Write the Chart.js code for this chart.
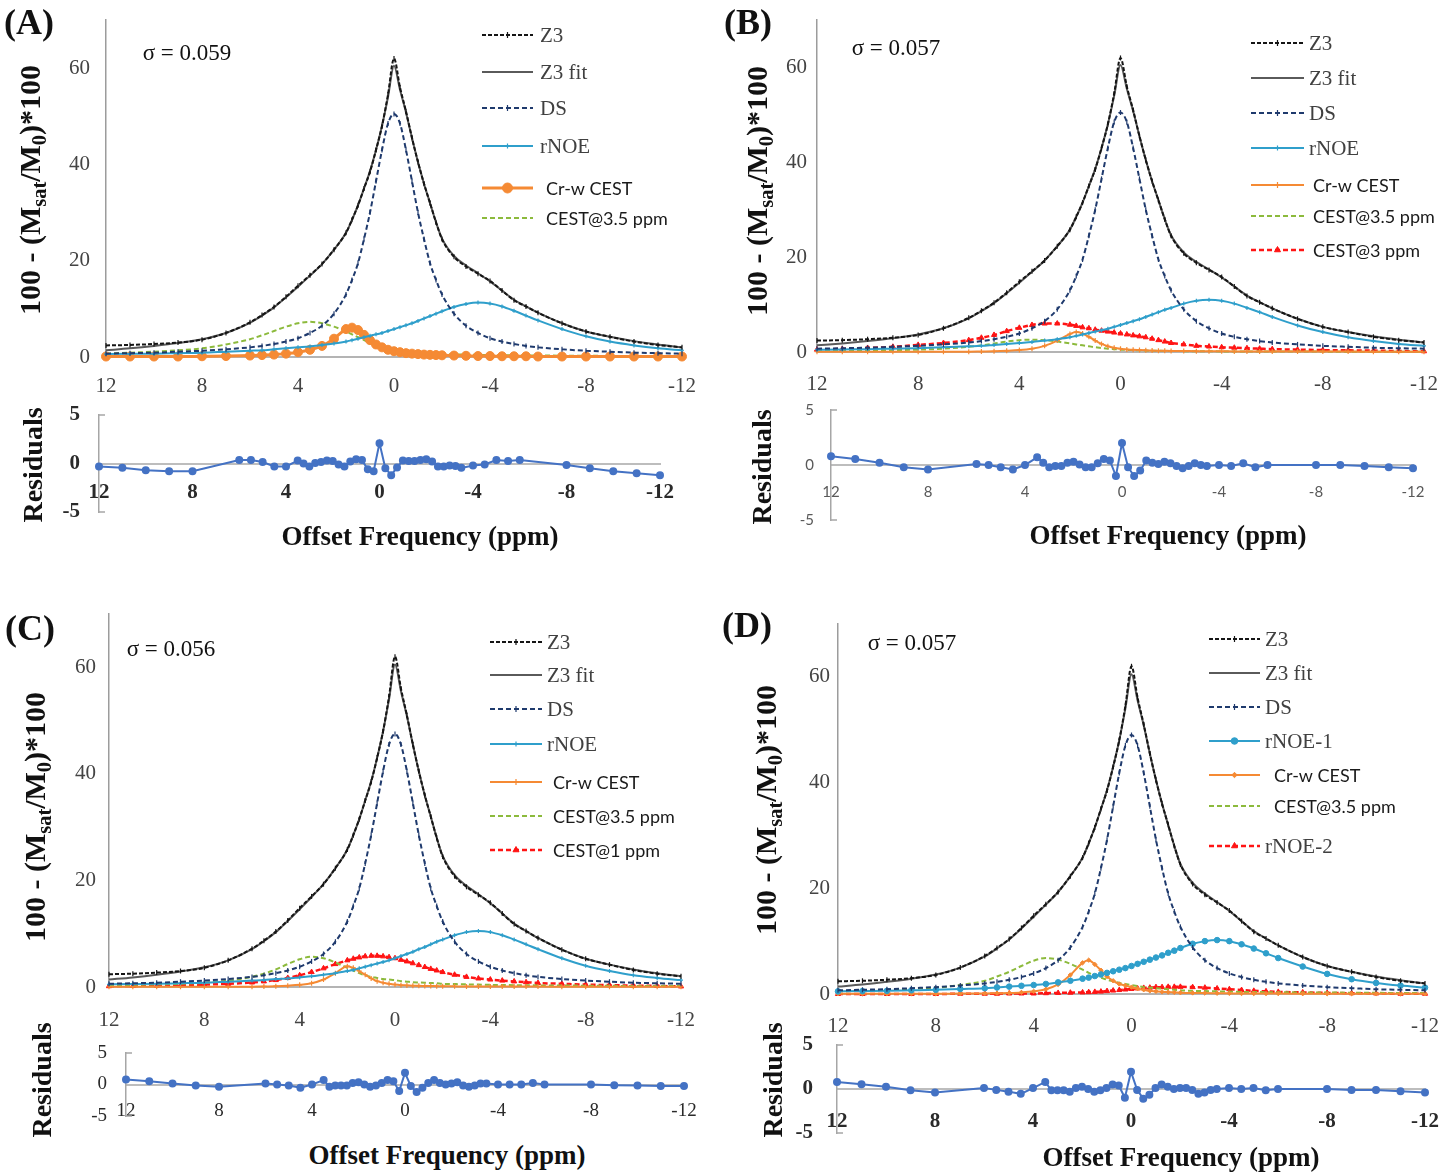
<!DOCTYPE html>
<html>
<head>
<meta charset="utf-8">
<title>Z-spectrum multi-pool fits</title>
<script src="https://cdn.jsdelivr.net/npm/chart.js@4.4.1/dist/chart.umd.min.js"></script>
<style>
  html, body { margin: 0; padding: 0; background: #fff; }
  #page { position: relative; width: 1447px; height: 1174px; overflow: hidden; background: #fff; }
  #page canvas { position: absolute; }
  .txt { position: absolute; white-space: nowrap; transform: translate(-50%, -50%); font-family: 'Liberation Serif', 'Times New Roman', serif; color: #111; line-height: 1; }
  .rot { transform: translate(-50%, -50%) rotate(-90deg); }
  .letter { font-size: 36px; font-weight: bold; }
  .sigma { font-size: 23px; }
  .ytitle { font-size: 30px; font-weight: bold; }
  .ytitle sub { font-size: 68%; vertical-align: -0.3em; line-height: 0; }
  .restitle { font-size: 28px; font-weight: bold; }
  .xtitle { font-size: 27px; font-weight: bold; }
</style>
</head>
<body>
<div id="page"></div>
<script>
// offsets (ppm) of the fitted spectra, shared by all four panels
const offsets = [12, 11, 10, 9, 8, 7, 6, 5.5, 5, 4.5, 4, 3.5, 3, 2.5, 2, 1.75, 1.5, 1.25, 1, 0.75, 0.5, 0.25, 0,
  -0.25, -0.5, -0.75, -1, -1.25, -1.5, -1.75, -2, -2.5, -3, -3.5, -4, -4.5, -5, -5.5, -6, -7, -8, -9, -10, -11, -12];
const resOffsets = [12, 11, 10, 9, 8, 6, 5.5, 5, 4.5, 4, 3.5, 3.25, 3, 2.75, 2.5, 2.25, 2, 1.75, 1.5, 1.25, 1, 0.75, 0.5, 0.25, 0,
  -0.25, -0.5, -0.75, -1, -1.25, -1.5, -1.75, -2, -2.25, -2.5, -2.75, -3, -3.25, -3.5, -4, -4.5, -5, -5.5, -6, -8, -9, -10, -11, -12];

const xTicks = [12, 8, 4, 0, -4, -8, -12];
const yTicks = [0, 20, 40, 60];
const resTicks = [-5, 0, 5];

// measured spectrum and its fit (same in every panel)
const z3Data = [2.4, 2.5, 2.7, 3.0, 3.6, 5.0, 7.2, 8.7, 10.4, 12.5, 14.8, 17.0, 19.3, 22.3, 25.8, 28.5, 31.5, 35.0, 38.5, 43.0, 48.0, 54.5, 62.0,
  56.0, 51.0, 45.5, 40.5, 36.0, 32.0, 28.0, 24.5, 20.8, 18.8, 17.3, 15.8, 13.8, 11.8, 10.5, 9.2, 7.0, 5.3, 4.2, 3.2, 2.5, 2.0];
const z3Fit = [1.4, 1.8, 2.3, 2.9, 3.7, 5.0, 7.1, 8.6, 10.3, 12.4, 14.6, 16.9, 19.3, 22.3, 25.8, 28.5, 31.5, 35.0, 38.6, 43.0, 48.0, 54.0, 60.5,
  55.5, 50.8, 45.5, 40.5, 36.0, 32.0, 28.0, 24.6, 21.0, 19.0, 17.4, 15.7, 13.8, 11.9, 10.5, 9.2, 7.0, 5.3, 4.2, 3.3, 2.6, 2.0];

// direct saturation
const dsA = [0.7, 0.8, 0.9, 1.1, 1.3, 1.6, 2.0, 2.3, 2.7, 3.2, 3.9, 5.0, 6.5, 9.0, 13.0, 16.0, 19.5, 24.5, 30.0, 36.5, 43.0, 48.5, 50.5,
  48.5, 43.0, 36.5, 30.0, 24.5, 19.5, 16.0, 13.0, 9.0, 6.5, 5.0, 3.9, 3.2, 2.7, 2.3, 2.0, 1.6, 1.3, 1.1, 0.9, 0.8, 0.7];
const dsC = [0.6, 0.7, 0.8, 1.0, 1.2, 1.5, 1.9, 2.2, 2.6, 3.1, 3.8, 4.8, 6.2, 8.5, 12.3, 15.2, 18.5, 23.2, 28.5, 34.5, 40.5, 45.5, 47.5,
  45.5, 40.5, 34.5, 28.5, 23.2, 18.5, 15.2, 12.3, 8.5, 6.2, 4.8, 3.8, 3.1, 2.6, 2.2, 1.9, 1.5, 1.2, 1.0, 0.8, 0.7, 0.6];
const dsD = [0.7, 0.8, 0.9, 1.1, 1.3, 1.6, 2.0, 2.3, 2.7, 3.2, 3.9, 4.9, 6.4, 8.8, 12.7, 15.6, 19.0, 23.8, 29.2, 35.5, 41.8, 47.0, 49.0,
  47.0, 41.8, 35.5, 29.2, 23.8, 19.0, 15.6, 12.7, 8.8, 6.4, 4.9, 3.9, 3.2, 2.7, 2.3, 2.0, 1.6, 1.3, 1.1, 0.9, 0.8, 0.7];

// rNOE
const rnoeA = [0.6, 0.65, 0.7, 0.8, 0.9, 1.1, 1.3, 1.4, 1.6, 1.8, 2.0, 2.2, 2.5, 2.8, 3.2, 3.5, 3.8, 4.1, 4.4, 4.7, 5.0, 5.4, 5.8,
  6.2, 6.6, 7.0, 7.5, 8.0, 8.5, 9.0, 9.5, 10.4, 11.0, 11.3, 11.1, 10.5, 9.6, 8.6, 7.6, 5.8, 4.3, 3.2, 2.4, 1.8, 1.4];
const rnoeB = [0.5, 0.55, 0.6, 0.7, 0.8, 1.0, 1.2, 1.3, 1.5, 1.7, 1.9, 2.1, 2.4, 2.7, 3.1, 3.4, 3.7, 4.0, 4.3, 4.6, 4.9, 5.3, 5.7,
  6.1, 6.5, 6.9, 7.4, 7.9, 8.4, 8.9, 9.3, 10.2, 10.8, 11.0, 10.8, 10.2, 9.3, 8.4, 7.4, 5.6, 4.2, 3.1, 2.3, 1.7, 1.3];
const rnoeC = [0.5, 0.55, 0.6, 0.7, 0.8, 1.0, 1.2, 1.3, 1.5, 1.6, 1.8, 2.0, 2.3, 2.6, 3.0, 3.2, 3.5, 3.8, 4.1, 4.4, 4.7, 5.0, 5.4,
  5.8, 6.2, 6.6, 7.1, 7.5, 8.0, 8.5, 8.9, 9.7, 10.3, 10.5, 10.3, 9.7, 8.9, 8.0, 7.1, 5.4, 4.0, 3.0, 2.2, 1.7, 1.3];
const rnoeD = [0.5, 0.55, 0.6, 0.7, 0.8, 0.95, 1.1, 1.25, 1.4, 1.55, 1.7, 1.9, 2.2, 2.5, 2.9, 3.1, 3.4, 3.7, 4.0, 4.3, 4.6, 4.9, 5.3,
  5.7, 6.1, 6.5, 6.9, 7.3, 7.8, 8.2, 8.7, 9.5, 10.0, 10.2, 10.0, 9.4, 8.6, 7.7, 6.8, 5.2, 3.8, 2.8, 2.1, 1.6, 1.2];

// creatine-weighted CEST
const crA = [0.1, 0.1, 0.1, 0.1, 0.15, 0.2, 0.3, 0.4, 0.5, 0.7, 1.0, 1.5, 2.3, 3.8, 5.8, 6.1, 5.6, 4.6, 3.5, 2.6, 2.0, 1.5, 1.2,
  1.0, 0.8, 0.7, 0.6, 0.5, 0.45, 0.4, 0.35, 0.3, 0.25, 0.2, 0.2, 0.15, 0.15, 0.15, 0.1, 0.1, 0.1, 0.1, 0.1, 0.1, 0.1];
const crB = [0.05, 0.05, 0.05, 0.05, 0.05, 0.05, 0.05, 0.1, 0.15, 0.25, 0.4, 0.7, 1.3, 2.4, 3.8, 4.2, 3.9, 3.2, 2.4, 1.7, 1.2, 0.9, 0.7,
  0.55, 0.45, 0.4, 0.35, 0.3, 0.28, 0.25, 0.22, 0.2, 0.18, 0.15, 0.15, 0.12, 0.12, 0.1, 0.1, 0.1, 0.08, 0.08, 0.06, 0.05, 0.05];
const crC = [0.05, 0.05, 0.05, 0.05, 0.05, 0.05, 0.05, 0.1, 0.15, 0.25, 0.4, 0.7, 1.4, 2.6, 3.9, 3.6, 3.0, 2.3, 1.6, 1.1, 0.8, 0.6, 0.45,
  0.35, 0.3, 0.25, 0.22, 0.2, 0.18, 0.15, 0.15, 0.12, 0.1, 0.1, 0.1, 0.1, 0.08, 0.08, 0.08, 0.06, 0.05, 0.05, 0.05, 0.05, 0.05];
const crD = [0.05, 0.05, 0.05, 0.05, 0.05, 0.08, 0.1, 0.15, 0.2, 0.3, 0.5, 0.9, 1.8, 3.6, 5.9, 6.4, 5.6, 4.5, 3.3, 2.5, 1.9, 1.6, 1.3,
  1.0, 0.8, 0.6, 0.5, 0.4, 0.35, 0.3, 0.25, 0.2, 0.18, 0.15, 0.12, 0.1, 0.1, 0.08, 0.08, 0.06, 0.05, 0.05, 0.05, 0.05, 0.05];

// CEST @ 3.5 ppm
const cestA = [0.7, 0.9, 1.1, 1.4, 1.8, 2.6, 3.7, 4.5, 5.4, 6.3, 7.0, 7.3, 7.0, 6.3, 5.3, 4.7, 4.1, 3.5, 3.0, 2.5, 2.1, 1.8, 1.5,
  1.3, 1.1, 1.0, 0.9, 0.8, 0.75, 0.7, 0.65, 0.55, 0.5, 0.45, 0.4, 0.38, 0.35, 0.33, 0.3, 0.28, 0.25, 0.22, 0.2, 0.2, 0.18];
const cestB = [0.2, 0.25, 0.3, 0.4, 0.5, 0.7, 1.1, 1.4, 1.8, 2.2, 2.5, 2.6, 2.5, 2.2, 1.8, 1.6, 1.4, 1.2, 1.0, 0.85, 0.7, 0.6, 0.5,
  0.45, 0.4, 0.35, 0.3, 0.28, 0.25, 0.22, 0.2, 0.18, 0.15, 0.14, 0.13, 0.12, 0.11, 0.1, 0.1, 0.09, 0.08, 0.07, 0.06, 0.06, 0.05];
const cestC = [0.3, 0.4, 0.5, 0.6, 0.8, 1.2, 1.9, 2.5, 3.3, 4.3, 5.2, 5.7, 5.4, 4.6, 3.6, 3.1, 2.6, 2.2, 1.9, 1.7, 1.5, 1.4, 1.3,
  1.1, 1.0, 0.9, 0.85, 0.8, 0.75, 0.7, 0.6, 0.55, 0.5, 0.45, 0.4, 0.38, 0.35, 0.33, 0.3, 0.28, 0.25, 0.22, 0.2, 0.2, 0.18];
const cestD = [0.5, 0.6, 0.8, 1.0, 1.2, 1.7, 2.5, 3.3, 4.2, 5.3, 6.3, 6.8, 6.5, 5.7, 4.6, 4.0, 3.5, 3.1, 2.7, 2.4, 2.1, 1.9, 1.7,
  1.5, 1.3, 1.2, 1.1, 1.0, 0.9, 0.8, 0.7, 0.6, 0.55, 0.5, 0.45, 0.4, 0.38, 0.35, 0.33, 0.3, 0.28, 0.25, 0.22, 0.2, 0.2];

// extra pools: CEST@3 ppm (B), CEST@1 ppm (C), rNOE-2 (D)
const cest3B = [0.5, 0.65, 0.85, 1.1, 1.5, 1.9, 2.5, 3.0, 3.6, 4.4, 5.1, 5.7, 6.0, 6.0, 5.75, 5.5, 5.2, 5.0, 4.7, 4.5, 4.3, 4.1, 3.9,
  3.7, 3.5, 3.3, 3.1, 2.8, 2.5, 2.2, 1.9, 1.6, 1.3, 1.15, 1.0, 0.9, 0.8, 0.7, 0.6, 0.5, 0.4, 0.35, 0.3, 0.2, 0.15];
const cest1C = [0.15, 0.2, 0.25, 0.35, 0.45, 0.6, 0.85, 1.05, 1.3, 1.7, 2.2, 2.8, 3.5, 4.3, 5.0, 5.3, 5.55, 5.75, 5.85, 5.85, 5.75, 5.6, 5.4,
  5.1, 4.8, 4.45, 4.1, 3.75, 3.4, 3.1, 2.8, 2.3, 1.9, 1.6, 1.4, 1.2, 1.05, 0.9, 0.75, 0.6, 0.45, 0.35, 0.25, 0.2, 0.1];
const rnoe2D = [0, 0, 0, 0, 0, 0.05, 0.05, 0.05, 0.1, 0.1, 0.1, 0.15, 0.2, 0.25, 0.3, 0.35, 0.4, 0.45, 0.55, 0.65, 0.75, 0.85, 0.95,
  1.05, 1.15, 1.2, 1.3, 1.3, 1.35, 1.35, 1.35, 1.3, 1.2, 1.05, 0.9, 0.75, 0.6, 0.5, 0.4, 0.3, 0.2, 0.15, 0.1, 0.05, 0.05];

// fit residuals
const resA = [-0.3, -0.45, -0.7, -0.8, -0.8, 0.35, 0.35, 0.15, -0.3, -0.3, 0.3, 0.0, -0.3, 0.05, 0.15, 0.3, 0.25, -0.1, -0.3, 0.2, 0.45, 0.35, -0.6, -0.8, 2.1,
  -0.5, -1.2, -0.4, 0.3, 0.25, 0.25, 0.35, 0.45, 0.2, -0.3, -0.3, -0.2, -0.25, -0.45, -0.2, -0.1, 0.35, 0.25, 0.35, -0.15, -0.5, -0.8, -1.0, -1.2];
const resB = [0.8, 0.55, 0.2, -0.2, -0.4, 0.1, 0.0, -0.2, -0.4, 0.0, 0.7, 0.2, -0.2, -0.1, -0.1, 0.2, 0.3, 0.05, -0.2, -0.2, 0.15, 0.55, 0.4, -1.0, 2.0,
  -0.2, -1.0, -0.5, 0.4, 0.2, 0.1, 0.3, 0.15, -0.1, -0.3, -0.1, 0.15, 0.0, -0.1, 0.0, -0.1, 0.15, -0.2, 0.0, 0.0, 0.0, -0.1, -0.2, -0.3];
const resC = [0.8, 0.5, 0.15, -0.15, -0.35, 0.15, 0.0, -0.15, -0.5, 0.0, 0.7, -0.35, -0.15, -0.15, -0.15, 0.25, 0.35, 0.0, -0.35, -0.15, 0.25, 0.7, 0.5, -1.05, 1.85,
  -0.25, -1.2, -0.5, 0.25, 0.7, 0.25, 0.0, 0.15, 0.35, -0.15, -0.35, -0.15, 0.15, 0.15, 0.0, 0.0, 0.0, 0.25, 0.0, 0.0, -0.1, -0.15, -0.25, -0.25];
const resD = [0.8, 0.55, 0.25, -0.15, -0.4, 0.1, -0.1, -0.3, -0.55, 0.1, 0.8, -0.15, -0.15, -0.15, -0.3, 0.1, 0.25, 0.0, -0.3, -0.15, 0.1, 0.5, 0.4, -1.0, 1.95,
  -0.1, -1.1, -0.65, 0.1, 0.5, 0.25, 0.0, 0.1, 0.1, -0.1, -0.55, -0.4, -0.1, 0.0, 0.1, 0.0, 0.1, -0.15, 0.0, 0.0, -0.1, -0.1, -0.25, -0.4];

const SERIF = "'Liberation Serif', 'Times New Roman', serif";
const SANS = "Lato, 'Liberation Sans', sans-serif";
const CLEAR = 'rgba(0,0,0,0)';

// line styles of the pools
const STYLE = {
  z3:    { borderColor: '#151515', borderWidth: 2, borderDash: [4, 2], pointStyle: 'line', pointRotation: 90, pointRadius: 2.5, pointBorderWidth: 1.2 },
  fit:   { borderColor: '#5a5a5a', borderWidth: 2, pointRadius: 0 },
  ds:    { borderColor: '#1f3a6d', borderWidth: 2, borderDash: [5, 3], pointStyle: 'line', pointRotation: 90, pointRadius: 2.5, pointBorderWidth: 1.2 },
  rnoe:  { borderColor: '#2f9fcb', borderWidth: 2, pointStyle: 'cross', pointRadius: 2, pointBorderWidth: 1.2 },
  rnoe1: { borderColor: '#2f9fcb', borderWidth: 2, pointStyle: 'circle', pointRadius: 2.8, pointBorderWidth: 1 },
  crBig: { borderColor: '#f58a34', borderWidth: 3, pointStyle: 'circle', pointRadius: 4.5, pointBorderWidth: 1 },
  cr:    { borderColor: '#f58a34', borderWidth: 2, pointStyle: 'cross', pointRadius: 2.5, pointBorderWidth: 1.2 },
  crDot: { borderColor: '#f58a34', borderWidth: 2, pointStyle: 'rectRot', pointRadius: 2.2, pointBorderWidth: 1 },
  cest:  { borderColor: '#8cba3c', borderWidth: 2, borderDash: [5, 3], pointRadius: 0 },
  red:   { borderColor: '#ff1414', borderWidth: 2.5, borderDash: [5, 3], pointStyle: 'triangle', pointRadius: 3, pointBorderWidth: 1 }
};

const panels = [
  {
    letter: '(A)', letterPos: [29, 22], sigma: 'σ = 0.059', sigmaPos: [187, 52],
    main: { l: 106, r: 682, t: 20, b: 357, xPad: 17, yPad: 16 },
    res: { l: 99, r: 660, t: 415, b: 512, xPad: 16, yPad: 19, font: { family: SERIF, size: 21, weight: 'bold' }, color: '#2a2a2a' },
    yTitle: [30, 190], resTitle: [33, 465], xTitle: [420, 536],
    legend: { x0: 482, x1: 533, tx: 540, sx: 546, ys: [35, 72, 108, 146, 188, 218] },
    series: [['Z3', z3Data, 'z3'], ['Z3 fit', z3Fit, 'fit'], ['DS', dsA, 'ds'], ['rNOE', rnoeA, 'rnoe'],
             ['Cr-w CEST', crA, 'crBig'], ['CEST@3.5 ppm', cestA, 'cest']],
    residuals: resA
  },
  {
    letter: '(B)', letterPos: [748, 22], sigma: 'σ = 0.057', sigmaPos: [896, 47],
    main: { l: 817, r: 1424, t: 20, b: 352, xPad: 20, yPad: 10 },
    res: { l: 831, r: 1413, t: 410, b: 520, xPad: 18, yPad: 17, font: { family: SANS, size: 15 }, color: '#595959' },
    yTitle: [757, 191], resTitle: [762, 467], xTitle: [1168, 535],
    legend: { x0: 1251, x1: 1304, tx: 1309, sx: 1313, ys: [43, 78, 113, 148, 185, 216, 250] },
    series: [['Z3', z3Data, 'z3'], ['Z3 fit', z3Fit, 'fit'], ['DS', dsA, 'ds'], ['rNOE', rnoeB, 'rnoe'],
             ['Cr-w CEST', crB, 'cr'], ['CEST@3.5 ppm', cestB, 'cest'], ['CEST@3 ppm', cest3B, 'red']],
    residuals: resB
  },
  {
    letter: '(C)', letterPos: [30, 628], sigma: 'σ = 0.056', sigmaPos: [171, 648],
    main: { l: 109, r: 681, t: 614, b: 987, xPad: 21, yPad: 13 },
    res: { l: 126, r: 684, t: 1053, b: 1116, xPad: 15, yPad: 19, font: { family: SERIF, size: 19 }, color: '#2a2a2a' },
    yTitle: [35, 817], resTitle: [42, 1080], xTitle: [447, 1155],
    legend: { x0: 490, x1: 542, tx: 547, sx: 553, ys: [642, 675, 709, 744, 782, 816, 850] },
    series: [['Z3', z3Data, 'z3'], ['Z3 fit', z3Fit, 'fit'], ['DS', dsC, 'ds'], ['rNOE', rnoeC, 'rnoe'],
             ['Cr-w CEST', crC, 'cr'], ['CEST@3.5 ppm', cestC, 'cest'], ['CEST@1 ppm', cest1C, 'red']],
    residuals: resC
  },
  {
    letter: '(D)', letterPos: [747, 625], sigma: 'σ = 0.057', sigmaPos: [912, 642],
    main: { l: 838, r: 1425, t: 624, b: 994, xPad: 20, yPad: 8 },
    res: { l: 837, r: 1425, t: 1045, b: 1133, xPad: 20, yPad: 24, font: { family: SERIF, size: 21, weight: 'bold' }, color: '#2a2a2a' },
    yTitle: [766, 810], resTitle: [773, 1080], xTitle: [1181, 1157],
    legend: { x0: 1209, x1: 1260, tx: 1265, sx: 1274, ys: [639, 673, 707, 741, 775, 806, 846] },
    series: [['Z3', z3Data, 'z3'], ['Z3 fit', z3Fit, 'fit'], ['DS', dsD, 'ds'], ['rNOE-1', rnoeD, 'rnoe1'],
             ['Cr-w CEST', crD, 'crDot'], ['CEST@3.5 ppm', cestD, 'cest'], ['rNOE-2', rnoe2D, 'red']],
    residuals: resD
  }
];

const MAIN_PAD = { l: 70, t: 15, r: 25, b: 45 };
const RES_PAD = { l: 60, t: 14, r: 25, b: 16 };
const page = document.getElementById('page');

function pts(xs, ys) {
  return xs.map((x, i) => ({ x: x, y: ys[i] }));
}

function makeCanvas(area, pad) {
  const c = document.createElement('canvas');
  const w = area.r - area.l + pad.l + pad.r;
  const h = area.b - area.t + pad.t + pad.b;
  c.width = w;
  c.height = h;
  c.style.left = (area.l - pad.l) + 'px';
  c.style.top = (area.t - pad.t) + 'px';
  c.style.width = w + 'px';
  c.style.height = h + 'px';
  page.appendChild(c);
  return { canvas: c, left: area.l - pad.l, top: area.t - pad.t };
}

function addText(html, pos, cls) {
  const d = document.createElement('div');
  d.className = 'txt ' + cls;
  d.innerHTML = html;
  d.style.left = pos[0] + 'px';
  d.style.top = pos[1] + 'px';
  page.appendChild(d);
}

// spacing between axis and its labels comes from invisible tick marks,
// because ticks.padding would also push the plot area inwards
function gap(len) {
  return { display: true, drawOnChartArea: false, drawTicks: true, tickLength: len, tickColor: CLEAR, color: CLEAR };
}

// legend drawn from the datasets' own styles
function legendPlugin(lg, origin) {
  return {
    id: 'sketchLegend',
    afterDraw(chart) {
      const ctx = chart.ctx;
      chart.data.datasets.forEach((ds, i) => {
        const y = lg.ys[i] - origin.top;
        const x0 = lg.x0 - origin.left;
        const x1 = lg.x1 - origin.left;
        ctx.save();
        ctx.strokeStyle = ds.borderColor;
        ctx.lineWidth = ds.borderWidth;
        ctx.setLineDash(ds.borderDash || []);
        ctx.beginPath();
        ctx.moveTo(x0, y);
        ctx.lineTo(x1, y);
        ctx.stroke();
        ctx.setLineDash([]);
        if (ds.pointRadius > 0) {
          ctx.fillStyle = ds.borderColor;
          ctx.lineWidth = ds.pointBorderWidth || 1;
          const opts = { pointStyle: ds.pointStyle, rotation: ds.pointRotation || 0, radius: ds.pointRadius + 0.5, borderWidth: ds.pointBorderWidth || 1 };
          if (Chart.helpers && Chart.helpers.drawPoint) {
            Chart.helpers.drawPoint(ctx, opts, (x0 + x1) / 2, y);
          } else {
            ctx.beginPath();
            ctx.arc((x0 + x1) / 2, y, ds.pointRadius, 0, Math.PI * 2);
            ctx.fill();
          }
        }
        const serif = !/CEST/.test(ds.label);
        ctx.font = serif ? '21px ' + SERIF : '18px ' + SANS;
        ctx.fillStyle = serif ? '#404040' : '#1a1a1a';
        ctx.textBaseline = 'middle';
        ctx.textAlign = 'left';
        ctx.fillText(ds.label, (serif ? lg.tx : lg.sx) - origin.left, y + 1);
        ctx.restore();
      });
    }
  };
}

// short inward caps at the ends of the residual y axis, like "["
const bracketPlugin = {
  id: 'bracket',
  afterDraw(chart) {
    const ctx = chart.ctx;
    const y = chart.scales.y;
    const x = chart.chartArea.left;
    ctx.save();
    ctx.strokeStyle = '#a6a6a6';
    ctx.lineWidth = 1.5;
    [y.max, y.min].forEach(v => {
      const py = y.getPixelForValue(v);
      ctx.beginPath();
      ctx.moveTo(x, py);
      ctx.lineTo(x + 6, py);
      ctx.stroke();
    });
    ctx.restore();
  }
};

function drawMain(p) {
  const box = makeCanvas(p.main, MAIN_PAD);
  const datasets = p.series.map(s => Object.assign({
    label: s[0],
    data: pts(offsets, s[1]),
    fill: false,
    clip: false,
    cubicInterpolationMode: 'monotone',
    pointBackgroundColor: STYLE[s[2]].borderColor,
    pointBorderColor: STYLE[s[2]].borderColor
  }, STYLE[s[2]]));

  new Chart(box.canvas, {
    type: 'line',
    data: { datasets: datasets },
    options: {
      responsive: false,
      animation: false,
      devicePixelRatio: 1,
      layout: { padding: { left: 0, top: MAIN_PAD.t, right: MAIN_PAD.r, bottom: 0 } },
      plugins: { legend: { display: false }, tooltip: { enabled: false } },
      scales: {
        x: {
          type: 'linear', reverse: true, min: -12, max: 12,
          afterBuildTicks: s => { s.ticks = xTicks.map(v => ({ value: v })); },
          afterFit: s => { s.height = MAIN_PAD.b; },
          grid: gap(p.main.xPad),
          border: { display: true, color: '#b4b4b4', width: 2 },
          ticks: { autoSkip: false, maxRotation: 0, padding: 0, color: '#444',
                   font: { family: SERIF, size: 21 }, callback: v => String(v) }
        },
        y: {
          type: 'linear', min: 0, max: 70,
          afterBuildTicks: s => { s.ticks = yTicks.map(v => ({ value: v })); },
          afterFit: s => { s.width = MAIN_PAD.l; },
          grid: gap(p.main.yPad),
          border: { display: true, color: '#9c9c9c', width: 1.5 },
          ticks: { padding: 0, color: '#444', font: { family: SERIF, size: 21 }, callback: v => String(v) }
        }
      }
    },
    plugins: [legendPlugin(p.legend, box)]
  });
}

function drawResiduals(p) {
  const r = p.res;
  const box = makeCanvas(r, RES_PAD);
  new Chart(box.canvas, {
    type: 'line',
    data: {
      datasets: [{
        label: 'Residuals',
        data: pts(resOffsets, p.residuals),
        borderColor: '#4472c4',
        backgroundColor: '#4472c4',
        borderWidth: 2,
        pointStyle: 'circle',
        pointRadius: 3,
        pointBackgroundColor: '#4472c4',
        pointBorderColor: '#4472c4',
        tension: 0,
        clip: false
      }]
    },
    options: {
      responsive: false,
      animation: false,
      devicePixelRatio: 1,
      layout: { padding: { left: 0, top: RES_PAD.t, right: RES_PAD.r, bottom: RES_PAD.b } },
      plugins: { legend: { display: false }, tooltip: { enabled: false } },
      scales: {
        x: {
          type: 'linear', reverse: true, min: -12, max: 12, position: { y: 0 },
          afterBuildTicks: s => { s.ticks = xTicks.map(v => ({ value: v })); },
          afterFit: s => { s.height = 0; },
          grid: gap(r.xPad),
          border: { display: true, color: '#bdbdbd', width: 2 },
          ticks: { autoSkip: false, maxRotation: 0, padding: 0, color: r.color, font: r.font, callback: v => String(v) }
        },
        y: {
          type: 'linear', min: -5, max: 5, position: 'left',
          afterBuildTicks: s => { s.ticks = resTicks.map(v => ({ value: v })); },
          afterFit: s => { s.width = RES_PAD.l; },
          grid: gap(r.yPad),
          border: { display: true, color: '#a6a6a6', width: 1.5 },
          ticks: { padding: 0, color: r.color, font: r.font, callback: v => String(v) }
        }
      }
    },
    plugins: [bracketPlugin]
  });
}

Chart.defaults.font.family = SERIF;

panels.forEach(p => {
  drawMain(p);
  drawResiduals(p);
  addText(p.letter, p.letterPos, 'letter');
  addText(p.sigma, p.sigmaPos, 'sigma');
  addText('100 - (M<sub>sat</sub>/M<sub>0</sub>)*100', p.yTitle, 'ytitle rot');
  addText('Residuals', p.resTitle, 'restitle rot');
  addText('Offset Frequency (ppm)', p.xTitle, 'xtitle');
});
</script>
</body>
</html>
